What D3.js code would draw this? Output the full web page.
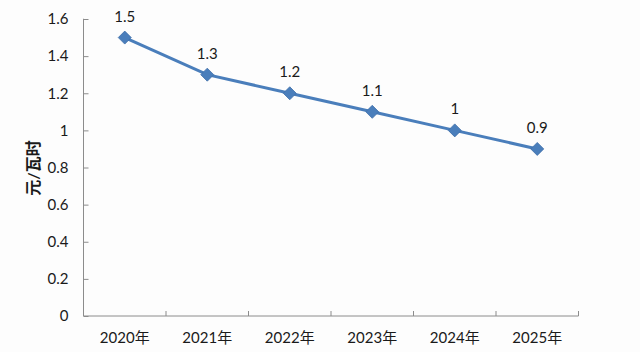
<!DOCTYPE html>
<html>
<head>
<meta charset="utf-8">
<script src="https://cdn.jsdelivr.net/npm/d3@7"></script>
<style>
  body { margin: 0; background: #fdfdfd; }
  svg { display: block; }
  text { font-family: Lato, "Noto Sans CJK SC", sans-serif; fill: #1a1a1a; }
</style>
</head>
<body>
<svg width="640" height="352"></svg>
<script>
const years = ["2020年", "2021年", "2022年", "2023年", "2024年", "2025年"];
const prices = [1.5, 1.3, 1.2, 1.1, 1, 0.9];
const yTicks = [0, 0.2, 0.4, 0.6, 0.8, 1, 1.2, 1.4, 1.6];

const margin = {left: 83.5, top: 19, right: 61.5, bottom: 36};
const width = 640 - margin.left - margin.right,
      height = 352 - margin.top - margin.bottom;

const svg = d3.select("svg");
const g = svg.append("g")
    .attr("transform", `translate(${margin.left}, ${margin.top})`);

const x = d3.scaleBand()
    .domain(years)
    .range([0, width]);

const y = d3.scaleLinear()
    .domain([0, 1.6])
    .range([height, 0]);

// y axis, ticks inward
const yAxis = g.append("g")
    .call(d3.axisLeft(y).tickValues(yTicks).tickSize(-5).tickPadding(20).tickFormat(d => d3.format("")(d)));
yAxis.selectAll("line").attr("stroke", "#8c8c8c");
yAxis.select(".domain").attr("stroke", "#8c8c8c").attr("d", `M0,${height}V0h-0.5`);
yAxis.selectAll("text").attr("font-size", "15px").attr("fill", "#1a1a1a")
    .attr("font-family", "Lato, sans-serif").attr("x", -15);

// x axis, boundary ticks inward
const xg = g.append("g").attr("transform", `translate(0, ${height})`);
xg.append("line").attr("x1", 0).attr("x2", width).attr("stroke", "#8c8c8c");
const bounds = years.map(d => x(d) + x.bandwidth()).concat([0]);
xg.selectAll(".bt").data(bounds).enter().append("line")
    .attr("x1", d => d).attr("x2", d => d)
    .attr("y1", 0).attr("y2", -5)
    .attr("stroke", "#8c8c8c");
xg.selectAll(".xl").data(years).enter().append("text")
    .attr("x", d => x(d) + x.bandwidth() / 2)
    .attr("y", 27)
    .attr("text-anchor", "middle")
    .attr("font-size", "15px")
    .text(d => d);

// y title
svg.append("text")
    .attr("transform", "translate(39, 168) rotate(-90)")
    .attr("text-anchor", "middle")
    .attr("font-size", "16px")
    .attr("font-weight", "bold")
    .attr("font-family", "'Noto Sans CJK SC', sans-serif")
    .text("元/瓦时");

const pts = years.map((d, i) => ({year: d, value: prices[i]}));

const line = d3.line()
    .x(d => x(d.year) + x.bandwidth() / 2)
    .y(d => y(d.value));

g.append("path")
    .datum(pts)
    .attr("d", line)
    .attr("fill", "none")
    .attr("stroke", "#4a7ebb")
    .attr("stroke-width", 3);

g.selectAll(".mk").data(pts).enter().append("path")
    .attr("transform", d => `translate(${x(d.year) + x.bandwidth() / 2}, ${y(d.value)})`)
    .attr("d", "M0,-6.5L6.5,0L0,6.5L-6.5,0Z")
    .attr("fill", "#4a7ebb")
    .attr("stroke", "#3f6fa8")
    .attr("stroke-width", 0.8);

g.selectAll(".lbl").data(pts).enter().append("text")
    .attr("x", d => x(d.year) + x.bandwidth() / 2)
    .attr("y", d => y(d.value) - 16)
    .attr("text-anchor", "middle")
    .attr("font-size", "15px")
    .text(d => d.value);
</script>
</body>
</html>
